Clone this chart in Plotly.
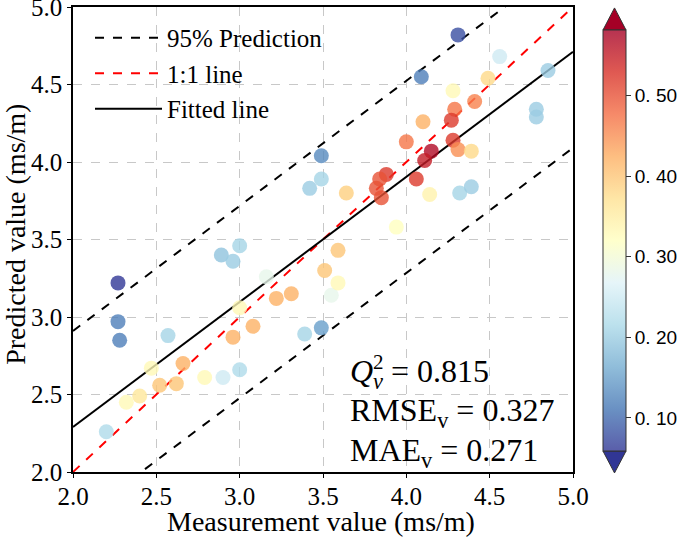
import plotly.graph_objects as go

# ---- data ----
measured = [3.49, 3.49, 3.42, 4.31, 4.56, 4.85, 4.09, 4.49, 4.28, 4.29, 4.41, 4.78, 4.78,
            4.27, 4.10, 4.00, 4.28, 4.15, 4.11, 4.31, 4.39, 3.88, 3.84, 3.82, 3.85, 4.06,
            3.64, 4.14, 4.32, 4.39, 3.94, 3.00, 2.89, 2.96, 2.27, 3.16, 3.51, 3.55, 2.27,
            2.28, 2.57, 3.22, 3.31, 3.00, 3.08, 2.96, 3.49, 3.39, 2.47, 2.66, 2.52, 2.62,
            2.79, 2.90, 3.00, 2.40, 2.32, 2.20, 3.59, 3.59]
predicted = [4.04, 3.89, 3.83, 4.82, 4.68, 4.59, 4.55, 4.54, 4.46, 4.34, 4.39, 4.34, 4.29,
             4.27, 4.26, 4.13, 4.14, 4.07, 4.01, 4.08, 4.07, 3.92, 3.89, 3.83, 3.77, 3.89,
             3.80, 3.79, 3.80, 3.84, 3.58, 3.46, 3.40, 3.36, 3.22, 3.26, 3.30, 3.14, 2.97,
             2.85, 2.88, 3.12, 3.15, 3.06, 2.94, 2.87, 2.93, 2.89, 2.67, 2.70, 2.56, 2.57,
             2.61, 2.61, 2.66, 2.49, 2.45, 2.26, 3.43, 3.22]
color_value = [0.13, 0.21, 0.20, 0.08, 0.25, 0.20, 0.12, 0.38, 0.33, 0.47, 0.46, 0.20, 0.20,
               0.52, 0.42, 0.47, 0.52, 0.57, 0.55, 0.45, 0.38, 0.52, 0.50, 0.50, 0.50, 0.52,
               0.39, 0.34, 0.21, 0.20, 0.32, 0.21, 0.19, 0.20, 0.06, 0.28, 0.40, 0.28, 0.12,
               0.12, 0.21, 0.42, 0.42, 0.33, 0.42, 0.42, 0.15, 0.21, 0.33, 0.42, 0.40, 0.40,
               0.33, 0.25, 0.22, 0.36, 0.33, 0.22, 0.40, 0.33]

fit_intercept_at_2 = 2.29
fit_slope = 0.807
band_half_width = 0.62
line_x = [2.0, 5.0]

x_ticks = [2.0, 2.5, 3.0, 3.5, 4.0, 4.5, 5.0]
y_ticks = [2.0, 2.5, 3.0, 3.5, 4.0, 4.5, 5.0]
cbar_ticks = [0.10, 0.20, 0.30, 0.40, 0.50]
cbar_ticktext = ["0. 10", "0. 20", "0. 30", "0. 40", "0. 50"]
cmin, cmax = 0.059, 0.581

x_title = "Measurement value (ms/m)"
y_title = "Predicted value (ms/m)"
stats_lines = ["<i>Q</i><sub><i>v</i></sub> = 0.815",
               "RMSE<sub>v</sub> = 0.327",
               "MAE<sub>v</sub> = 0.271"]

# ---- derived ----
fit_y = [fit_intercept_at_2 + fit_slope * (x - 2.0) for x in line_x]
upper_y = [v + band_half_width for v in fit_y]
lower_y = [v - band_half_width for v in fit_y]

rdylbu_r = [[0.0, "#313695"], [0.1, "#4575b4"], [0.2, "#74add1"], [0.3, "#abd9e9"],
            [0.4, "#e0f3f8"], [0.5, "#ffffbf"], [0.6, "#fee090"], [0.7, "#fdae61"],
            [0.8, "#f46d43"], [0.9, "#d73027"], [1.0, "#a50026"]]

def fade(hexc, a=0.8):
    h = hexc.lstrip("#")
    r, g, b = int(h[0:2], 16), int(h[2:4], 16), int(h[4:6], 16)
    r, g, b = [round(a * c + (1 - a) * 255) for c in (r, g, b)]
    return f"rgb({r},{g},{b})"

faded_scale = [[p, fade(c)] for p, c in rdylbu_r]

serif = "Liberation Serif"
fig = go.Figure()

fig.add_trace(go.Scatter(x=line_x, y=upper_y, mode="lines", name="95% Prediction",
                         line=dict(color="black", width=2, dash="dash")))
fig.add_trace(go.Scatter(x=line_x, y=lower_y, mode="lines", showlegend=False,
                         line=dict(color="black", width=2, dash="dash")))
fig.add_trace(go.Scatter(x=line_x, y=line_x, mode="lines", name="1:1 line",
                         line=dict(color="red", width=2, dash="dash")))
fig.add_trace(go.Scatter(x=line_x, y=fit_y, mode="lines", name="Fitted line",
                         line=dict(color="black", width=2)))

fig.add_trace(go.Scatter(x=measured, y=predicted, mode="markers", showlegend=False,
                         marker=dict(size=15, color=color_value, colorscale=rdylbu_r,
                                     cmin=cmin, cmax=cmax, opacity=0.8,
                                     line=dict(width=0), showscale=False)))

# colorbar carrier (faded like the reference)
fig.add_trace(go.Scatter(x=[None, None], y=[None, None], mode="markers", showlegend=False,
                         hoverinfo="skip",
                         marker=dict(color=[cmin, cmax], colorscale=faded_scale,
                                     cmin=cmin, cmax=cmax, showscale=True,
                                     colorbar=dict(x=1.06, xanchor="left", y=0.4978, yanchor="middle",
                                                   len=0.9055, lenmode="fraction", thickness=23,
                                                   xpad=0, ypad=0,
                                                   outlinecolor="#333", outlinewidth=1,
                                                   tickvals=cbar_ticks, ticktext=cbar_ticktext,
                                                   ticks="outside", ticklen=5, tickcolor="#333",
                                                   tickfont=dict(family="Liberation Sans", size=19,
                                                                 color="black")))))

# extend triangles of colorbar
x0, x1 = 1.06, 1.106
fig.add_shape(type="path", xref="paper", yref="paper",
              path=f"M {x0},0.9505 L {x1},0.9505 L {(x0+x1)/2},0.998 Z",
              fillcolor="#a50026", line=dict(color="#333", width=1))
fig.add_shape(type="path", xref="paper", yref="paper",
              path=f"M {x0},0.045 L {x1},0.045 L {(x0+x1)/2},-0.002 Z",
              fillcolor="#313695", line=dict(color="#333", width=1))

ann_y = [0.212, 0.127, 0.041]
for txt, yy in zip(stats_lines, ann_y):
    fig.add_annotation(text=txt, xref="paper", yref="paper", x=0.55, y=yy,
                       xanchor="left", yanchor="middle", showarrow=False,
                       font=dict(family=serif, size=32, color="black"))
fig.add_annotation(text="2", xref="paper", yref="paper", x=0.596, y=0.237,
                   xanchor="left", yanchor="middle", showarrow=False,
                   font=dict(family=serif, size=21, color="black"))

# axis titles
fig.add_annotation(text=x_title, xref="paper", yref="paper", x=0.496, y=-0.107,
                   xanchor="center", yanchor="middle", showarrow=False,
                   font=dict(family=serif, size=28, color="black"))
fig.add_annotation(text=y_title, xref="paper", yref="paper", x=-0.114, y=0.51,
                   xanchor="center", yanchor="middle", showarrow=False, textangle=-90,
                   font=dict(family=serif, size=28, color="black"))

axis_common = dict(showline=True, linecolor="black", linewidth=1.5, mirror=True,
                   ticks="outside", ticklen=4, tickcolor="black",
                   showgrid=True, gridcolor="#c8c8c8", griddash="dash", gridwidth=1,
                   zeroline=False, tickformat=".1f", automargin=False,
                   ticklabeloverflow="allow",
                   tickfont=dict(family=serif, size=25, color="black"))

fig.update_xaxes(range=[2.0, 5.0], tickvals=x_ticks, ticklabelstandoff=-3, **axis_common)
fig.update_yaxes(range=[2.0, 5.0], tickvals=y_ticks, **axis_common)

fig.update_layout(width=685, height=537,
                  margin=dict(l=73, r=112, t=7, b=65, autoexpand=False),
                  plot_bgcolor="white", paper_bgcolor="white",
                  legend=dict(x=0.034, y=0.983, xanchor="left", yanchor="top",
                              bgcolor="rgba(0,0,0,0)", borderwidth=0,
                              font=dict(family=serif, size=25, color="black"),
                              itemwidth=67, tracegroupgap=0))

fig.write_html("out.html", config={"displayModeBar": False},
               post_script="document.body.style.margin='0';")
